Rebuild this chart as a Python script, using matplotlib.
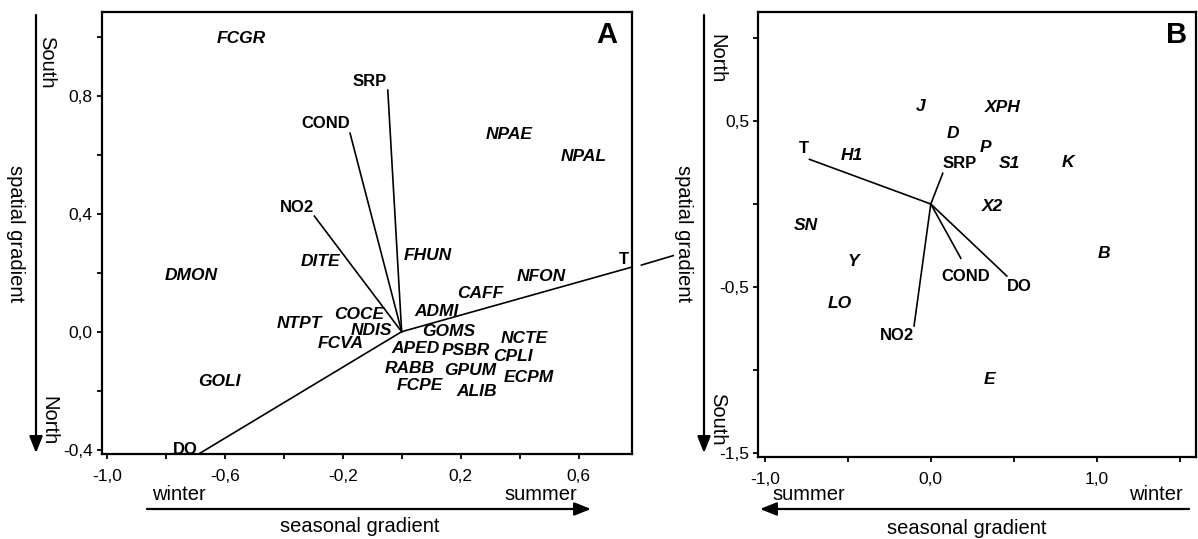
import matplotlib
matplotlib.use("Agg")
import matplotlib.pyplot as plt
from matplotlib.ticker import FixedLocator

plt.rcParams["font.family"] = ["Liberation Sans", "DejaVu Sans"]

W, H = 1198, 539

# ---- panel A : species scores ----
sp_a = ["FCGR", "NPAE", "NPAL", "DITE", "FHUN", "DMON", "NFON", "CAFF",
        "ADMI", "COCE", "NTPT", "NDIS", "GOMS", "FCVA", "NCTE", "APED",
        "PSBR", "CPLI", "RABB", "GPUM", "ECPM", "FCPE", "ALIB", "GOLI"]
sp_a_x = [-0.545, 0.366, 0.617, -0.275, 0.090, -0.715, 0.472, 0.266,
          0.119, -0.144, -0.347, -0.102, 0.158, -0.208, 0.416, 0.047,
          0.218, 0.377, 0.028, 0.234, 0.432, 0.061, 0.254, -0.619]
sp_a_y = [0.995, 0.667, 0.593, 0.237, 0.257, 0.192, 0.186, 0.129,
          0.068, 0.057, 0.028, 0.003, 0.000, -0.041, -0.024, -0.056,
          -0.062, -0.083, -0.124, -0.130, -0.156, -0.181, -0.203, -0.169]

# ---- panel A : environmental arrows ----
env_a = ["SRP", "COND", "NO2", "T", "DO"]
env_a_x = [-0.047, -0.175, -0.296, 0.780, -0.684]
env_a_y = [0.819, 0.673, 0.392, 0.219, -0.412]
env_a_lx = [-0.107, -0.258, -0.355, 0.753, -0.735]
env_a_ly = [0.847, 0.706, 0.421, 0.244, -0.398]
# piece of the T arrow drawn past the frame
t_ext_x = [0.813, 0.921]
t_ext_y = [0.226, 0.258]

# ---- panel B : species scores ----
sp_b = ["J", "XPH", "D", "P", "H1", "S1", "K", "X2", "SN", "B", "Y", "LO", "E"]
sp_b_x = [-0.064, 0.431, 0.134, 0.327, -0.478, 0.473, 0.826, 0.374,
          -0.750, 1.045, -0.466, -0.546, 0.354]
sp_b_y = [0.589, 0.580, 0.426, 0.343, 0.295, 0.245, 0.250, -0.016,
          -0.127, -0.297, -0.348, -0.598, -1.060]

# ---- panel B : environmental arrows ----
env_b = ["T", "SRP", "COND", "DO", "NO2"]
env_b_x = [-0.731, 0.072, 0.181, 0.458, -0.101]
env_b_y = [0.269, 0.185, -0.327, -0.434, -0.735]
env_b_lx = [-0.763, 0.176, 0.211, 0.536, -0.207]
env_b_ly = [0.332, 0.241, -0.436, -0.498, -0.792]

# ticks
a_xticks = [-1.0, -0.8, -0.6, -0.4, -0.2, 0.0, 0.2, 0.4, 0.6]
a_xlabels = ["-1,0", "", "-0,6", "", "-0,2", "", "0,2", "", "0,6"]
a_yticks = [-0.4, -0.2, 0.0, 0.2, 0.4, 0.6, 0.8, 1.0]
a_ylabels = ["-0,4", "", "0,0", "", "0,4", "", "0,8", ""]
b_xticks = [-1.0, -0.5, 0.0, 0.5, 1.0, 1.5]
b_xlabels = ["-1,0", "", "0,0", "", "1,0", ""]
b_yticks = [-1.5, -1.0, -0.5, 0.0, 0.5, 1.0]
b_ylabels = ["-1,5", "", "-0,5", "", "0,5", ""]


def fp(x, y):
    # pixel position (top origin) -> figure fraction
    return (x / W, 1 - y / H)


def style_axes(ax, xt, xl, yt, yl):
    ax.xaxis.set_major_locator(FixedLocator(xt))
    ax.set_xticklabels(xl)
    ax.yaxis.set_major_locator(FixedLocator(yt))
    ax.set_yticklabels(yl)
    ax.tick_params(axis="both", direction="out", length=3.5, width=1.3,
                   labelsize=12.5)
    ax.tick_params(axis="x", pad=7)
    ax.tick_params(axis="y", pad=3)
    for s in ax.spines.values():
        s.set_linewidth(1.6)


def draw_panel(ax, sp, sx, sy, env, ex, ey, lx, ly):
    for name, x, y in zip(sp, sx, sy):
        ax.text(x, y, name, ha="center", va="center", fontsize=12.5,
                fontweight="bold", fontstyle="italic")
    for name, x, y, tx, ty in zip(env, ex, ey, lx, ly):
        ax.plot([0, x], [0, y], color="black", lw=1.2)
        ax.text(tx, ty, name, ha="center", va="center", fontsize=12,
                fontweight="bold")


fig = plt.figure(figsize=(W / 100, H / 100), dpi=100)

axA = fig.add_axes([0.0849, 0.1577, 0.4424, 0.8206])
draw_panel(axA, sp_a, sp_a_x, sp_a_y, env_a, env_a_x, env_a_y, env_a_lx, env_a_ly)
axA.plot(t_ext_x, t_ext_y, color="black", lw=1.2, clip_on=False)
axA.set_xlim(-1.017, 0.78)
axA.set_ylim(-0.4146, 1.085)
style_axes(axA, a_xticks, a_xlabels, a_yticks, a_ylabels)
axA.text(0.953, 0.947, "A", transform=axA.transAxes, ha="center",
         va="center", fontsize=21, fontweight="bold")

axB = fig.add_axes([0.6330, 0.1516, 0.3651, 0.8256])
draw_panel(axB, sp_b, sp_b_x, sp_b_y, env_b, env_b_x, env_b_y, env_b_lx, env_b_ly)
axB.set_xlim(-1.039, 1.596)
axB.set_ylim(-1.526, 1.155)
style_axes(axB, b_xticks, b_xlabels, b_yticks, b_ylabels)
axB.text(0.957, 0.949, "B", transform=axB.transAxes, ha="center",
         va="center", fontsize=21, fontweight="bold")

# gradient arrows and labels around the panels
arrow = dict(arrowstyle="-|>,head_length=0.5,head_width=0.2",
             color="black", lw=1.6, mutation_scale=20, shrinkA=0, shrinkB=0)
ff = "figure fraction"
axA.annotate("", xy=fp(36, 453), xytext=fp(36, 15), xycoords=ff,
             textcoords=ff, arrowprops=arrow, annotation_clip=False)
axA.annotate("", xy=fp(591, 509), xytext=fp(147, 509), xycoords=ff,
             textcoords=ff, arrowprops=arrow, annotation_clip=False)
axB.annotate("", xy=fp(704, 453), xytext=fp(704, 15), xycoords=ff,
             textcoords=ff, arrowprops=arrow, annotation_clip=False)
axB.annotate("", xy=fp(760, 509), xytext=fp(1189, 509), xycoords=ff,
             textcoords=ff, arrowprops=arrow, annotation_clip=False)

lab = dict(fontsize=14.5, ha="center", va="center")
fig.text(*fp(47, 62), "South", rotation=270, **lab)
fig.text(*fp(48.5, 421), "North", rotation=270, **lab)
fig.text(*fp(15, 234), "spatial gradient", rotation=270, **lab)
fig.text(*fp(178.5, 495), "winter", **lab)
fig.text(*fp(541, 495), "summer", **lab)
fig.text(*fp(360, 527), "seasonal gradient", **lab)

fig.text(*fp(717, 59), "North", rotation=270, **lab)
fig.text(*fp(717.5, 419), "South", rotation=270, **lab)
fig.text(*fp(683, 234), "spatial gradient", rotation=270, **lab)
fig.text(*fp(809, 495), "summer", **lab)
fig.text(*fp(1155.5, 495), "winter", **lab)
fig.text(*fp(967, 528), "seasonal gradient", **lab)

fig.savefig("out.png", dpi=100)
